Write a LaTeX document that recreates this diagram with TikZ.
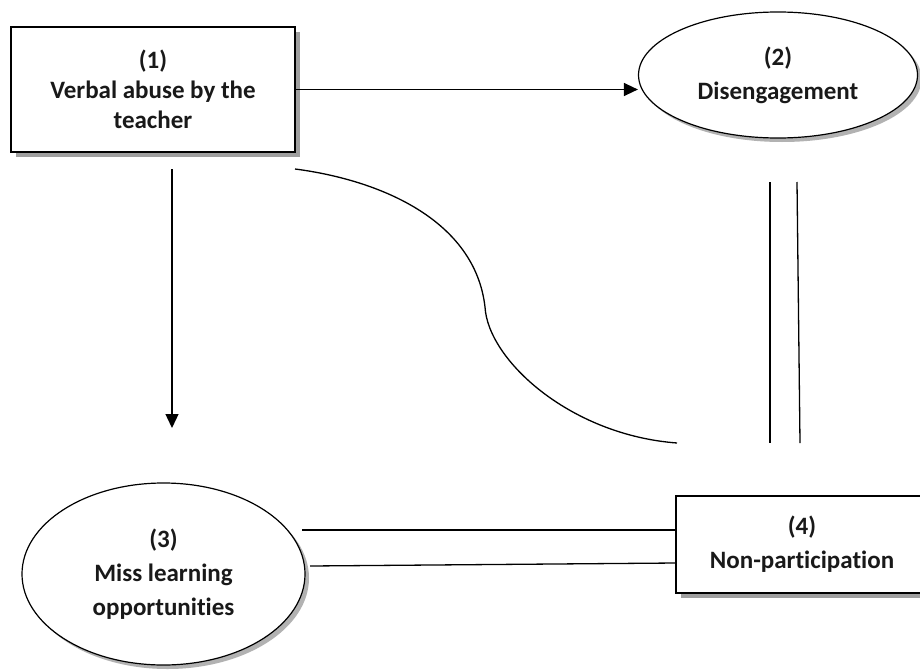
\documentclass[tikz,border=0pt]{standalone}
\usepackage{fontspec}
\setmainfont{Carlito}[Ligatures={NoCommon}]
\usetikzlibrary{shapes.geometric,shadows,arrows.meta}
\begin{document}
\begin{tikzpicture}[x=1pt,y=-1pt,
  lbl/.style={font=\fontsize{25}{30}\selectfont\bfseries, align=center, text=black!90},
  boxnode/.style={lbl, draw, line width=1.8pt, fill=white, inner sep=0pt,
    drop shadow={shadow xshift=5pt, shadow yshift=-5pt, fill=gray!75, opacity=1}},
  ellnode/.style={lbl, ellipse, draw, line width=1.2pt, fill=white, inner sep=0pt,
    drop shadow={shadow xshift=4pt, shadow yshift=-4pt, fill=gray!60, opacity=1}},
  conn/.style={line width=1.3pt},
  arr/.style={conn, -{Triangle[length=14pt,width=13pt]}}
]
\useasboundingbox (0,0) rectangle (920,669);
\fill[white] (0,0) rectangle (920,669);

\node[boxnode, minimum width=284pt, minimum height=125pt] (b1) at (153,89.5)
  {(1)\\Verbal abuse by the\\teacher};
\node[ellnode, minimum width=279pt, minimum height=126pt] (e2) at (778,75)
  {(2)\\[4pt]Disengagement};
\node[ellnode, minimum width=283pt, minimum height=182pt] (e3) at (163.5,574)
  {(3)\\[4pt]Miss learning\\[4pt]opportunities};
\node[boxnode, minimum width=252pt, minimum height=97pt] (b4) at (802,544.5)
  {(4)\\[4pt]Non-participation};

% arrows
\draw[arr] (b1.east) -- (b1.east -| e2.west);
\coordinate (a1) at (172,169);
\coordinate (a2) at (172,428);
\draw[arr] (a1) -- (a2);

% S-curve
\coordinate (c1) at (295,169);
\coordinate (c2) at (485,307);
\coordinate (c3) at (677,443);
\draw[conn] (c1) .. controls (380,180) and (475,220) .. (c2)
               .. controls (488,360) and (570,435) .. (c3);

% double vertical lines
\coordinate (v1t) at (770,182);
\coordinate (v1b) at (770,443);
\coordinate (v2t) at (797,182);
\coordinate (v2b) at (800,443);
\draw[conn] (v1t) -- (v1b);
\draw[conn] (v2t) -- (v2b);

% double horizontal lines
\coordinate (h1) at (302,530);
\coordinate (h2) at (310,566);
\coordinate (h2e) at (676,563);
\draw[conn] (h1) -- (h1 -| b4.west);
\draw[conn] (h2) -- (h2e);
\end{tikzpicture}
\end{document}
